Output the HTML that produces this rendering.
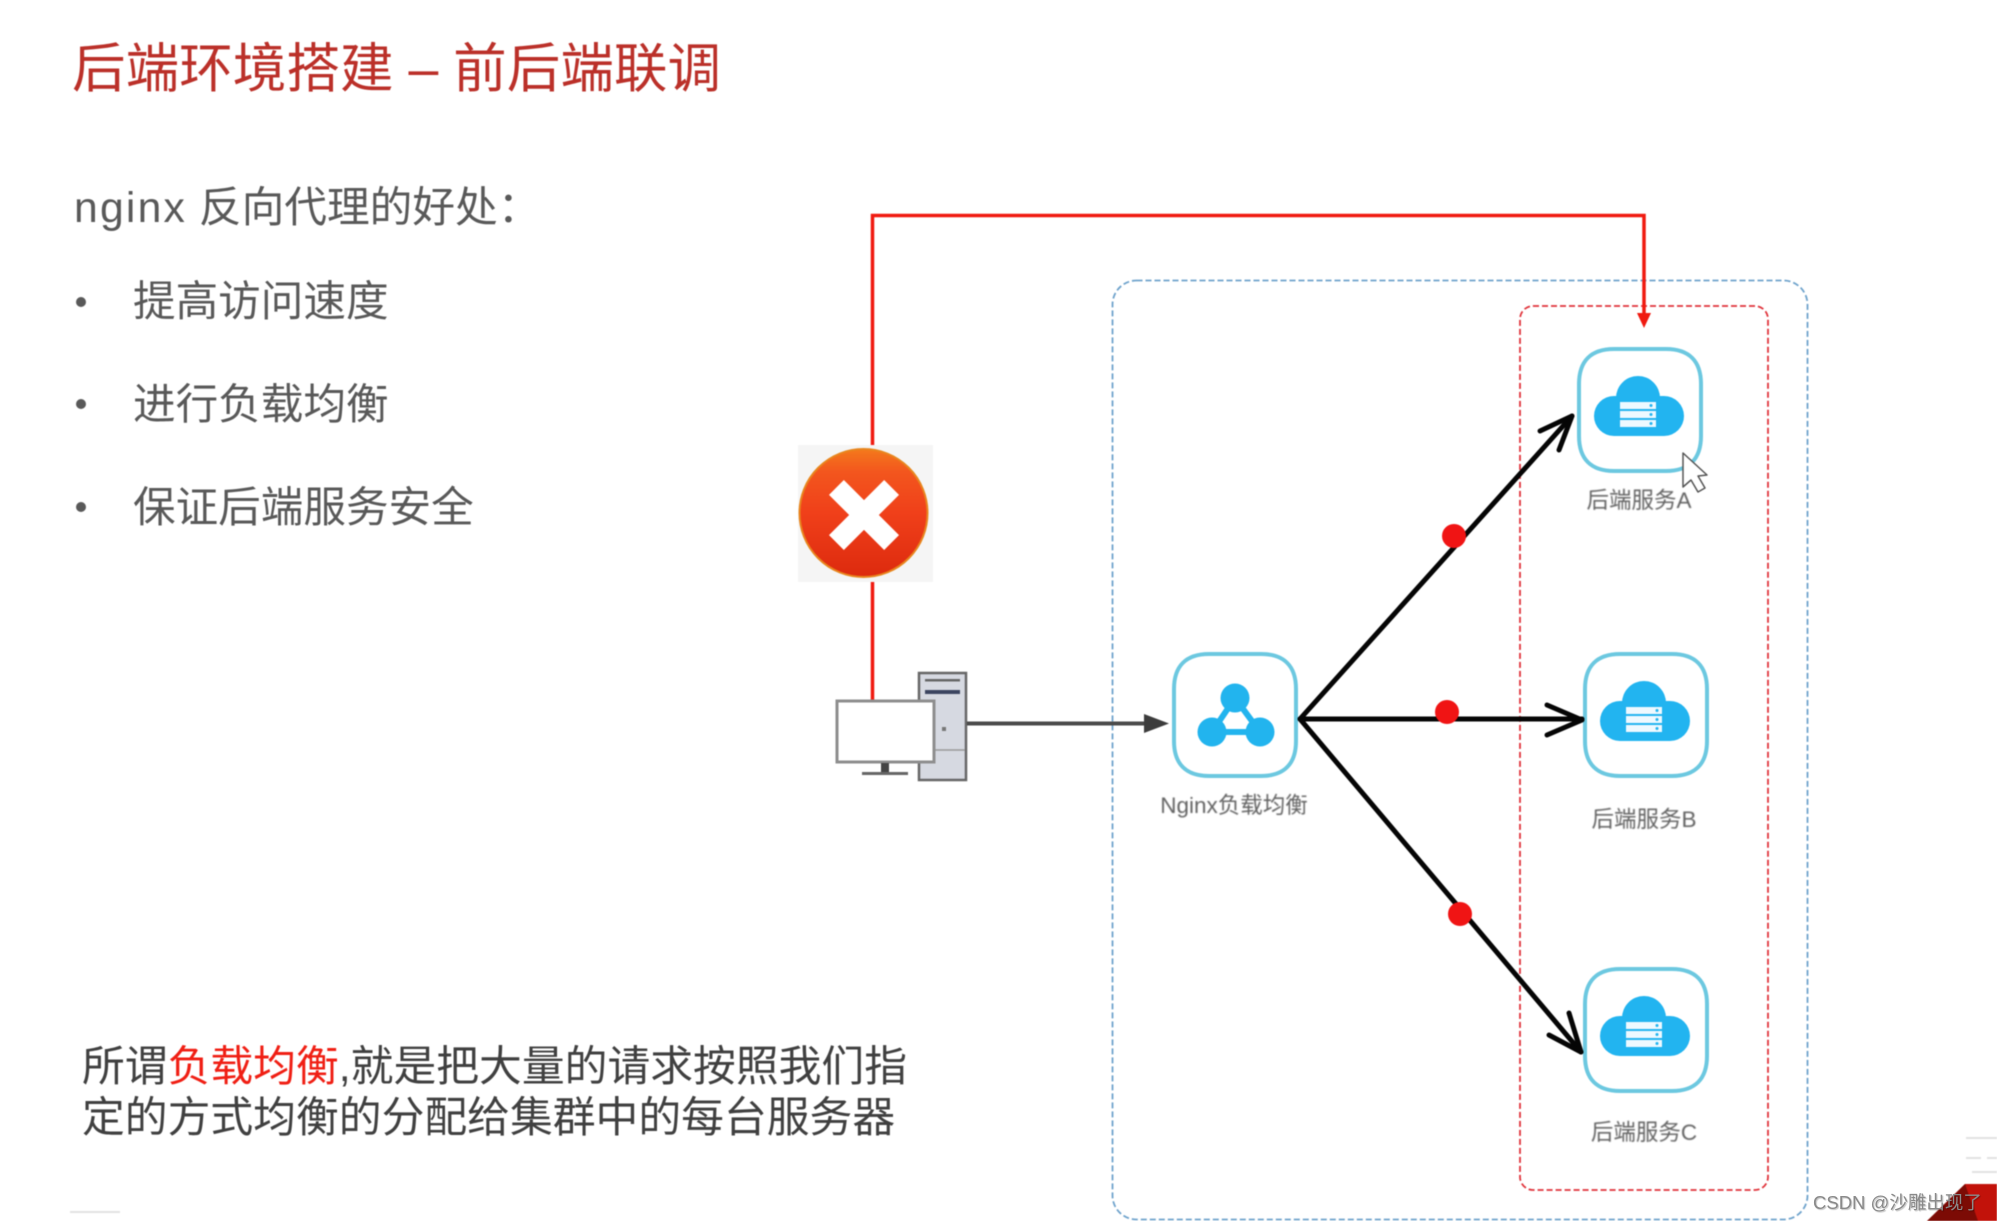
<!DOCTYPE html>
<html lang="zh">
<head>
<meta charset="utf-8">
<title>后端环境搭建 - 前后端联调</title>
<style>
html,body{margin:0;padding:0;background:#fff}
#p{position:relative;width:1997px;height:1221px;overflow:hidden;background:#fff;font-family:"Liberation Sans","Noto Sans CJK SC",sans-serif}
#p svg{position:absolute;left:0;top:0;filter:blur(.6px)}
.t{position:absolute;white-space:nowrap;filter:blur(.6px)}
.l{filter:blur(.9px)}
</style>
</head>
<body>
<div id="p">
<div class="t" style="left:72px;top:30px;font-size:53.600px;line-height:78px;color:#bb3029">后端环境搭建 <span style="font-family:'Liberation Sans'">–</span> 前后端联调</div>
<div class="t" style="left:74px;top:176px;font-size:42.700px;line-height:64px;color:#595959"><span style="letter-spacing:2.200px">nginx</span> 反向代理的好处：</div>
<div class="t" style="left:133px;top:271px;font-size:42.600px;line-height:62px;color:#595959">提高访问速度</div>
<div class="t" style="left:133px;top:374px;font-size:42.600px;line-height:62px;color:#595959">进行负载均衡</div>
<div class="t" style="left:133px;top:477px;font-size:42.600px;line-height:62px;color:#595959">保证后端服务安全</div>
<div class="t" style="left:82px;top:1042px;font-size:42.800px;line-height:51px;color:#404040">所谓<span style="color:#f01f14">负载均衡</span>,就是把大量的请求按照我们指<br>定的方式均衡的分配给集群中的每台服务器</div>

<svg width="1997" height="1221" viewBox="0 0 1997 1221" xmlns="http://www.w3.org/2000/svg">
<defs>
<linearGradient id="eg" x1="0" y1="0" x2="0" y2="1">
<stop offset="0" stop-color="#f4791c"/><stop offset=".18" stop-color="#f3561e"/><stop offset=".5" stop-color="#f0401a"/><stop offset="1" stop-color="#dd2a0e"/>
</linearGradient>
<g id="sq"><path d="M36 1H88C111 1 123 13 123 36V88C123 111 111 123 88 123H36C13 123 1 111 1 88V36C1 13 13 1 36 1Z" fill="#fff" stroke="#6cc8e0" stroke-width="4"/></g>
<g id="cl">
<use href="#sq"/>
<rect x="16" y="48" width="90" height="40" rx="20" fill="#22b4f0"/>
<circle cx="60" cy="50" r="22" fill="#22b4f0"/>
<rect x="42" y="54" width="36" height="7" fill="#eef9ff"/>
<rect x="42" y="63" width="36" height="7" fill="#eef9ff"/>
<rect x="42" y="72" width="36" height="7" fill="#eef9ff"/>
<circle cx="73" cy="57.500" r="1.500" fill="#22b4f0"/>
<circle cx="73" cy="66.500" r="1.500" fill="#22b4f0"/>
<circle cx="73" cy="75.500" r="1.500" fill="#22b4f0"/>
</g>
</defs>

<!-- dashed containers -->
<rect x="1112.500" y="280.500" width="695" height="939" rx="24" fill="none" stroke="#6fa3cc" stroke-width="1.800" stroke-dasharray="6 3"/>
<rect x="1520" y="306" width="248" height="884" rx="13" fill="none" stroke="#e0343c" stroke-width="1.800" stroke-dasharray="6 3"/>

<!-- red route -->
<path d="M872.500 445V215.500H1644V314" fill="none" stroke="#f01a10" stroke-width="3.500"/>
<path d="M872.500 581V700" fill="none" stroke="#f01a10" stroke-width="3.500"/>
<path d="M1637 313H1651L1644 328Z" fill="#f01a10"/>

<!-- error icon -->
<rect x="798" y="445" width="135" height="137" fill="#f5f5f5"/>
<circle cx="863.500" cy="513" r="64" fill="url(#eg)" stroke="#e8861e" stroke-width="2"/>
<g transform="translate(864 515) rotate(45)" fill="#fff"><rect x="-39" y="-10.500" width="78" height="21"/><rect x="-10.500" y="-39" width="21" height="78"/></g>

<!-- computer -->
<rect x="919" y="673" width="47" height="107" fill="#d6d9e1" stroke="#666" stroke-width="2.500"/>
<rect x="925" y="679" width="35" height="2.500" fill="#666"/>
<rect x="925" y="690" width="35" height="4" fill="#3c4560"/>
<line x1="920" y1="750" x2="965" y2="750" stroke="#999" stroke-width="1.500"/>
<rect x="942" y="727" width="4" height="4" fill="#777"/>
<rect x="837" y="701" width="97" height="61" fill="#fff" stroke="#8e8e8e" stroke-width="3"/>
<rect x="881" y="763" width="8" height="9" fill="#444"/>
<rect x="862" y="772" width="46" height="3" fill="#666"/>

<!-- grey arrow -->
<path d="M967 723.500H1148" stroke="#4a4a4a" stroke-width="4" fill="none"/>
<path d="M1144 714L1169 723.500L1144 733Z" fill="#3c3c3c"/>

<!-- nodes -->
<g transform="translate(1173 653)">
<use href="#sq"/>
<path d="M62 45L39 79H87Z" fill="#fff" stroke="#22b4ee" stroke-width="6"/>
<circle cx="62" cy="45" r="14.500" fill="#22b4ee"/>
<circle cx="39" cy="79" r="14.500" fill="#22b4ee"/>
<circle cx="87" cy="79" r="14.500" fill="#22b4ee"/>
</g>
<use href="#cl" x="1578" y="348"/>
<use href="#cl" x="1584" y="653"/>
<use href="#cl" x="1584" y="968"/>

<!-- black arrows -->
<g fill="none" stroke="#050505" stroke-width="5" stroke-linecap="round" stroke-linejoin="round">
<path d="M1300 719L1572 416"/>
<path d="M1540 431L1572 416L1559 450"/>
<path d="M1300 719H1582"/>
<path d="M1547 705L1582 720L1547 735"/>
<path d="M1300 719L1581 1052"/>
<path d="M1549 1035L1581 1052L1569 1013"/>
</g>

<!-- red dots -->
<circle cx="1454" cy="536" r="12" fill="#f01414"/>
<circle cx="1447" cy="712" r="12" fill="#f01414"/>
<circle cx="1460" cy="914" r="12" fill="#f01414"/>

<!-- cursor -->
<path d="M1683 453V487L1691 480L1698 492L1705 488L1698 476L1707 475Z" fill="#fff" stroke="#555" stroke-width="1.500" stroke-linejoin="round"/>

<!-- decorations -->
<g stroke="#e2e2e2" stroke-width="2" fill="none">
<path d="M1966 1138H1997M1966 1158H1981M1987 1158H1997M1972 1172H1997"/>
<path d="M70 1212H120"/>
</g>
<path d="M1927 1221L1965 1184H1997V1221Z" fill="#c2120a"/>
<path d="M1927 1221L1965 1184L1978 1221Z" fill="#7c0b05"/>
</svg>

<div class="t l" style="left:1158px;top:790px;width:152px;text-align:center;font-size:22.500px;line-height:32px;color:#626262">Nginx负载均衡</div>
<div class="t l" style="left:1559px;top:485px;width:160px;text-align:center;font-size:22.500px;line-height:32px;color:#626262">后端服务A</div>
<div class="t l" style="left:1564px;top:804px;width:160px;text-align:center;font-size:22.500px;line-height:32px;color:#626262">后端服务B</div>
<div class="t l" style="left:1564px;top:1117px;width:160px;text-align:center;font-size:22.500px;line-height:32px;color:#626262">后端服务C</div>
<div style="position:absolute;left:1813px;top:1191px;font-size:18.500px;line-height:24px;color:#8a8a8a;white-space:nowrap;text-shadow:1px 1px 1px rgba(0,0,0,.25)">CSDN @沙雕出现了</div>
<svg width="1997" height="1221" viewBox="0 0 1997 1221" xmlns="http://www.w3.org/2000/svg" style="pointer-events:none">
<circle cx="81" cy="302" r="5" fill="#595959"/>
<circle cx="81" cy="404" r="5" fill="#595959"/>
<circle cx="81" cy="507" r="5" fill="#595959"/>
</svg>
</div>
</body>
</html>
